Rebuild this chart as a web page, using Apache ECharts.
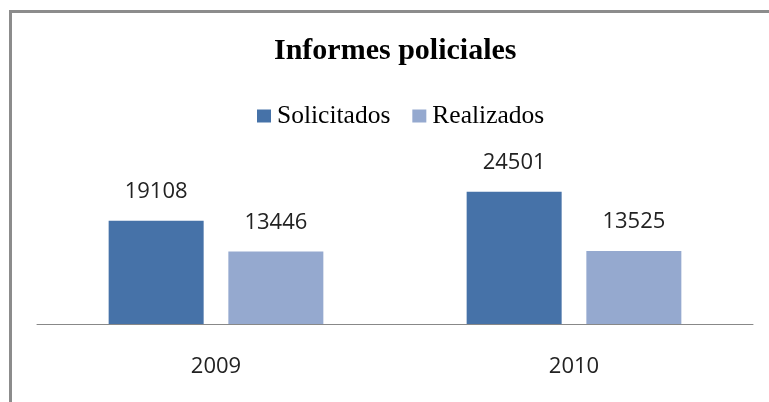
<!DOCTYPE html>
<html>
<head>
<meta charset="utf-8">
<script src="https://cdn.jsdelivr.net/npm/echarts@6/dist/echarts.min.js"></script>
<style>
  html, body { margin: 0; padding: 0; background: #fff; }
  #chart { width: 769px; height: 402px; }
</style>
</head>
<body>
<div id="chart"></div>
<script>
const years = ['2009', '2010'];
const solicitados = [19108, 24501];
const realizados = [13446, 13525];

const chart = echarts.init(document.getElementById('chart'));

const labelStyle = {
  show: true,
  position: 'top',
  distance: 18,
  fontFamily: 'Open Sans',
  fontSize: 22,
  color: '#222'
};

chart.setOption({
  animation: false,
  title: {
    text: 'Informes policiales',
    left: 269,
    top: 31,
    textStyle: {
      fontFamily: 'Liberation Serif',
      fontWeight: 'bold',
      fontSize: 30,
      color: '#000'
    }
  },
  legend: {
    top: 98,
    left: 252,
    itemWidth: 14,
    itemHeight: 13,
    itemGap: 22,
    icon: 'rect',
    textStyle: {
      fontFamily: 'Liberation Serif',
      fontSize: 25.5,
      color: '#000',
      padding: [0, 0, 0, 1]
    }
  },
  graphic: [{
    type: 'rect',
    shape: { x: 10.5, y: 11.5, width: 800, height: 500 },
    style: { fill: 'none', stroke: '#8c8c8c', lineWidth: 3 },
    silent: true
  }],
  grid: { left: 37, right: 16, top: 162, bottom: 78 },
  xAxis: {
    type: 'category',
    data: years,
    axisLine: { lineStyle: { color: '#888', width: 1 } },
    axisTick: { show: false },
    axisLabel: {
      margin: 32,
      fontFamily: 'Open Sans',
      fontSize: 22,
      color: '#222'
    }
  },
  yAxis: {
    type: 'value',
    min: 0,
    max: 30000,
    show: false,
    splitLine: { show: false }
  },
  series: [
    {
      name: 'Solicitados',
      type: 'bar',
      data: solicitados,
      barWidth: 95,
      barGap: '26%',
      itemStyle: { color: '#4672a8' },
      label: labelStyle
    },
    {
      name: 'Realizados',
      type: 'bar',
      data: realizados,
      barWidth: 95,
      itemStyle: { color: '#95a9cf' },
      label: labelStyle
    }
  ]
});
</script>
</body>
</html>
